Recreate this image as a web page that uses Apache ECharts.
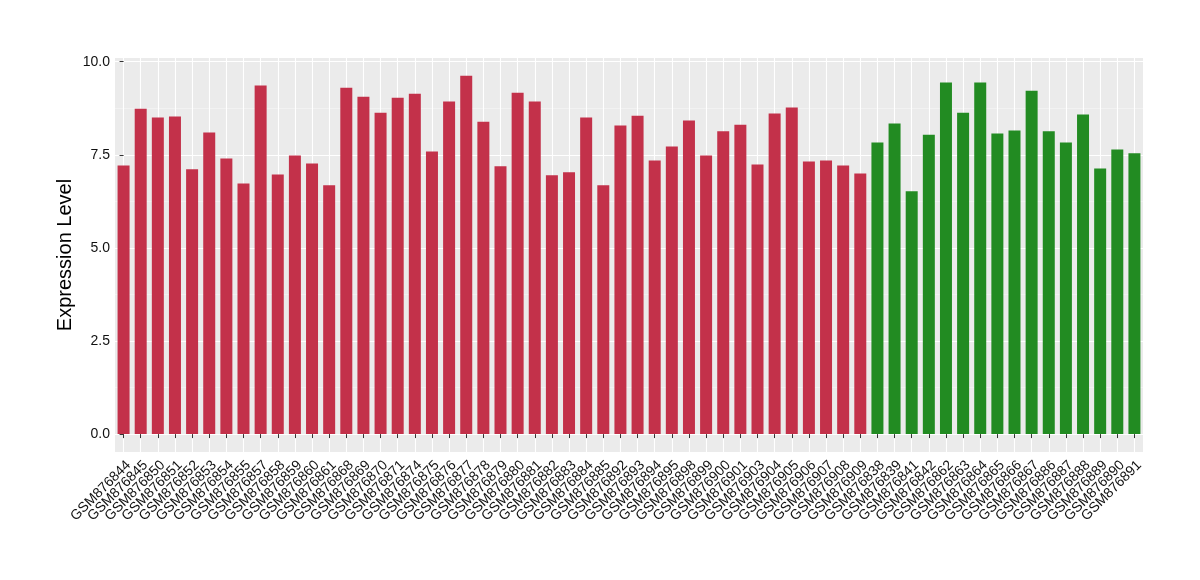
<!DOCTYPE html>
<html>
<head>
<meta charset="utf-8">
<script src="https://cdn.jsdelivr.net/npm/echarts@6/dist/echarts.min.js"></script>
<style>
html,body{margin:0;padding:0;background:#fff;}
#chart{width:1200px;height:580px;}
</style>
</head>
<body>
<div id="chart"></div>
<script>
// Group 1 (red)
const redSamples = ["GSM876844","GSM876845","GSM876850","GSM876851","GSM876852","GSM876853","GSM876854","GSM876855","GSM876857","GSM876858",
  "GSM876859","GSM876860","GSM876861","GSM876868","GSM876869","GSM876870","GSM876871","GSM876874","GSM876875","GSM876876",
  "GSM876877","GSM876878","GSM876879","GSM876880","GSM876881","GSM876882","GSM876883","GSM876884","GSM876885","GSM876892",
  "GSM876893","GSM876894","GSM876895","GSM876898","GSM876899","GSM876900","GSM876901","GSM876903","GSM876904","GSM876905",
  "GSM876906","GSM876907","GSM876908","GSM876909"];
const redValues = [7.21,8.74,8.50,8.53,7.11,8.10,7.40,6.73,9.36,6.97,
  7.48,7.27,6.68,9.30,9.06,8.63,9.03,9.14,7.59,8.93,
  9.62,8.39,7.19,9.17,8.93,6.95,7.03,8.50,6.68,8.29,
  8.55,7.35,7.72,8.42,7.48,8.13,8.31,7.24,8.61,8.77,
  7.32,7.35,7.21,7.00];
// Group 2 (green)
const greenSamples = ["GSM876838","GSM876839","GSM876841","GSM876842","GSM876862","GSM876863","GSM876864","GSM876865","GSM876866","GSM876867",
  "GSM876886","GSM876887","GSM876888","GSM876889","GSM876890","GSM876891"];
const greenValues = [7.83,8.34,6.52,8.04,9.44,8.63,9.44,8.07,8.15,9.22,
  8.13,7.83,8.58,7.13,7.64,7.54];
const yMajorTicks = [0, 2.5, 5, 7.5, 10];
const yMinorTicks = [1.25, 3.75, 6.25, 8.75];

const RED = '#C3314A', GREEN = '#228B22';
const categories = redSamples.concat(greenSamples);
const categoryIndex = categories.map((_, i) => i);
const barData = redValues.map(v => ({value: v, itemStyle: {color: RED}}))
  .concat(greenValues.map(v => ({value: v, itemStyle: {color: GREEN}})));

const chart = echarts.init(document.getElementById('chart'), null, {renderer: 'canvas'});
const FONT = 'Liberation Sans, Arial, sans-serif';
chart.setOption({
  animation: false,
  backgroundColor: '#ffffff',
  grid: {left: 115, right: 57, top: 58, bottom: 128, show: true, backgroundColor: '#EBEBEB', borderWidth: 0},
  xAxis: [{
    type: 'category',
    data: categories,
    axisLine: {show: false},
    axisTick: {show: true, alignWithLabel: true, length: 4, lineStyle: {color: '#333', width: 1}},
    splitLine: {show: false},
    axisLabel: {interval: 0, rotate: 45, fontSize: 14, color: '#111', fontFamily: FONT, margin: 6,
      align: 'right', verticalAlign: 'top'}
  }, {
    // helper axis for vertical gridlines at category centres
    type: 'value',
    position: 'bottom',
    min: -0.5, max: categories.length - 0.5,
    axisLine: {show: false},
    axisTick: {show: false, customValues: categoryIndex},
    axisLabel: {show: false, customValues: categoryIndex},
    splitLine: {show: true, lineStyle: {color: '#ffffff', width: 1.1}}
  }],
  yAxis: [{
    type: 'value',
    min: -0.481, max: 10.1,
    name: 'Expression Level',
    nameLocation: 'middle',
    nameGap: 40,
    nameMoveOverlap: false,
    nameTextStyle: {fontSize: 20, color: '#000', fontFamily: FONT},
    axisLine: {show: false},
    axisTick: {show: true, length: 4, customValues: yMajorTicks, lineStyle: {color: '#333', width: 1}},
    axisLabel: {customValues: yMajorTicks, fontSize: 14, color: '#111', fontFamily: FONT, margin: 5,
      formatter: v => v.toFixed(1)},
    splitLine: {show: true, lineStyle: {color: '#ffffff', width: 1.1}}
  }, {
    type: 'value',
    min: -0.481, max: 10.1,
    position: 'left',
    axisLine: {show: false},
    axisTick: {show: false, customValues: yMinorTicks},
    axisLabel: {show: false, customValues: yMinorTicks},
    splitLine: {show: true, lineStyle: {color: '#F7F7F7', width: 0.6}}
  }],
  series: [{
    type: 'bar',
    xAxisIndex: 0,
    yAxisIndex: 0,
    data: barData,
    barCategoryGap: '30%'
  }]
});
</script>
</body>
</html>
